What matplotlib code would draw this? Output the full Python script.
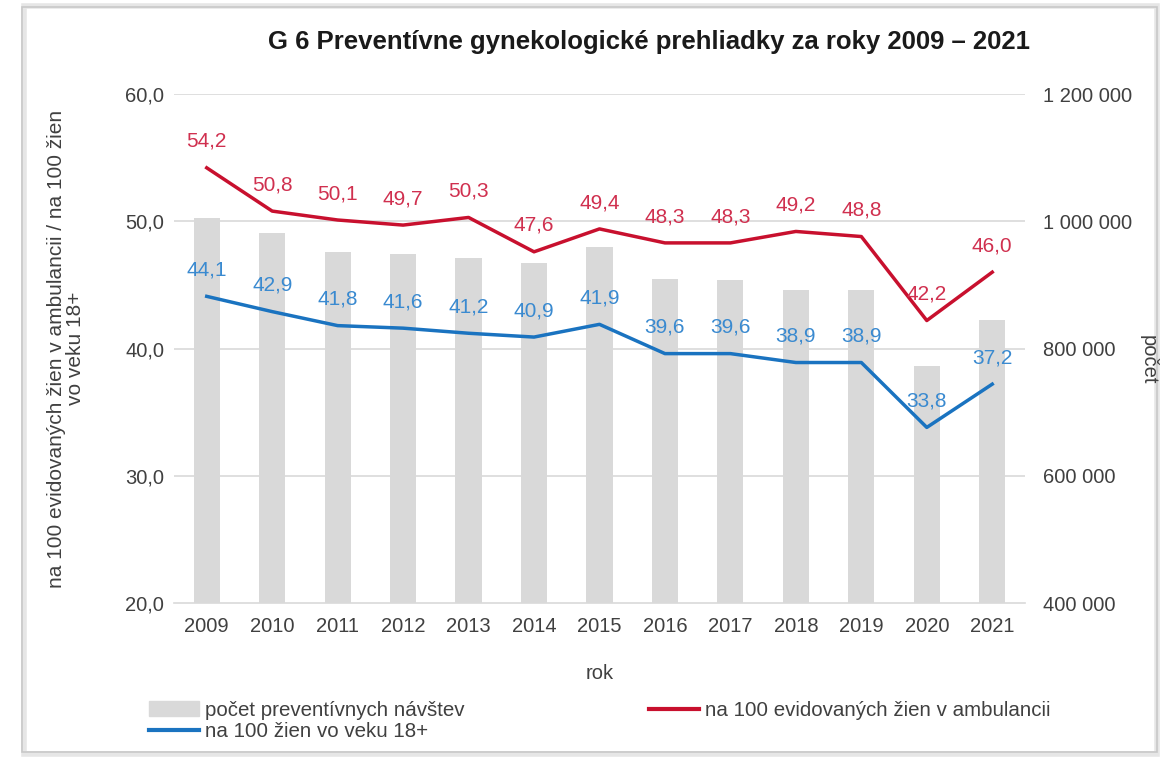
import matplotlib.pyplot as plt
import matplotlib.patches as patches
from matplotlib.ticker import FuncFormatter

plt.rcParams['font.family'] = ['Liberation Sans', 'DejaVu Sans']

# data
years = ['2009', '2010', '2011', '2012', '2013', '2014', '2015',
         '2016', '2017', '2018', '2019', '2020', '2021']
visits = [1005000, 981000, 952000, 948000, 942000, 934000, 960000,
          909000, 908000, 892000, 892000, 772000, 845000]
per_100_amb = [54.2, 50.8, 50.1, 49.7, 50.3, 47.6, 49.4,
               48.3, 48.3, 49.2, 48.8, 42.2, 46.0]
per_100_18 = [44.1, 42.9, 41.8, 41.6, 41.2, 40.9, 41.9,
              39.6, 39.6, 38.9, 38.9, 33.8, 37.2]

bar_color = '#d9d9d9'
red = '#c8102e'
blue = '#1a73c0'
red_lbl = '#d0304f'
blue_lbl = '#3a8ad0'
grid_color = '#d9d9d9'
txt = '#404040'

fig = plt.figure(figsize=(11.6, 7.57), dpi=100)

# outer frame with a light shadow
fig.patches.append(patches.Rectangle((24 / 1160, 3 / 757), 1133 / 1160, 748 / 757,
                                     transform=fig.transFigure, fill=False,
                                     edgecolor='#e6e6e6', lw=4, zorder=0))
fig.patches.append(patches.Rectangle((22 / 1160, 5 / 757), 1135 / 1160, 745 / 757,
                                     transform=fig.transFigure, fill=False,
                                     edgecolor='#c8c8c8', lw=1.2, zorder=1))

ax = fig.add_axes([0.15, 0.2034, 0.7336, 0.6724])
ax2 = ax.twinx()

x = list(range(len(years)))

# bars on the right axis
ax2.bar(x, visits, width=0.4, color=bar_color, zorder=1)
ax2.set_ylim(400000, 1200000)
ax2.set_yticks([400000, 600000, 800000, 1000000, 1200000])
ax2.yaxis.set_major_formatter(FuncFormatter(lambda v, p: f'{int(v):,}'.replace(',', ' ')))

# lines on the left axis, drawn above the bars
ax.set_zorder(ax2.get_zorder() + 1)
ax.patch.set_visible(False)
ax.plot(x, per_100_amb, color=red, lw=2.5, zorder=3)
ax.plot(x, per_100_18, color=blue, lw=2.5, zorder=3)

for xi, v in zip(x, per_100_amb):
    ax.annotate(f'{v:.1f}'.replace('.', ','), (xi, v), xytext=(0, 19),
                textcoords='offset points', ha='center', va='center',
                color=red_lbl, fontsize=15)
for xi, v in zip(x, per_100_18):
    ax.annotate(f'{v:.1f}'.replace('.', ','), (xi, v), xytext=(0, 19),
                textcoords='offset points', ha='center', va='center',
                color=blue_lbl, fontsize=15)

ax.set_ylim(20, 60)
ax.set_yticks([20, 30, 40, 50, 60])
ax.yaxis.set_major_formatter(FuncFormatter(lambda v, p: f'{v:.1f}'.replace('.', ',')))
ax.set_xlim(-0.5, len(years) - 0.5)
ax.set_xticks(x)
ax.set_xticklabels(years)

ax2.grid(False)
for yv in [30, 40, 50, 60]:
    ax2.axhline(400000 + (yv - 20) * 20000, color=grid_color, lw=1.2, zorder=0)

for a in (ax, ax2):
    for s in a.spines.values():
        s.set_visible(False)
    a.tick_params(length=0, labelsize=14.5, colors=txt)
ax2.spines['bottom'].set_visible(True)
ax2.spines['bottom'].set_color(grid_color)
ax2.spines['bottom'].set_linewidth(1.2)
ax.tick_params(axis='y', pad=7)
ax.tick_params(axis='x', pad=10)
ax2.tick_params(axis='y', pad=13)

ax.set_xlabel('rok', fontsize=14.5, color=txt, labelpad=20)
ax.set_ylabel('na 100 evidovaných žien v ambulancii / na 100 žien\nvo veku 18+',
              fontsize=15, color=txt, labelpad=29, linespacing=1.0)
fig.text(1148 / 1160, 1 - 360 / 757, 'počet', rotation=-90, ha='center', va='center',
         fontsize=14.5, color=txt)

fig.text(649 / 1160, 1 - 42 / 757,
         'G 6 Preventívne gynekologické prehliadky za roky 2009 – 2021',
         ha='center', va='center', fontsize=18.5, fontweight='bold', color='#1a1a1a')

# legend
h_bar = patches.Patch(color=bar_color)
h_red = plt.Line2D([], [], color=red, lw=3)
h_blue = plt.Line2D([], [], color=blue, lw=3)
fig.legend([h_bar, h_blue, h_red],
           ['počet preventívnych návštev', 'na 100 žien vo veku 18+',
            'na 100 evidovaných žien v ambulancii'],
           ncol=2, loc='lower left', bbox_to_anchor=(141 / 1160, 8 / 757),
           frameon=False, fontsize=14.8, handlelength=2.4, handletextpad=0.3,
           columnspacing=9.0, labelspacing=0.1, borderaxespad=0,
           labelcolor=txt)

fig.savefig('out.png', dpi=100, facecolor='white')
